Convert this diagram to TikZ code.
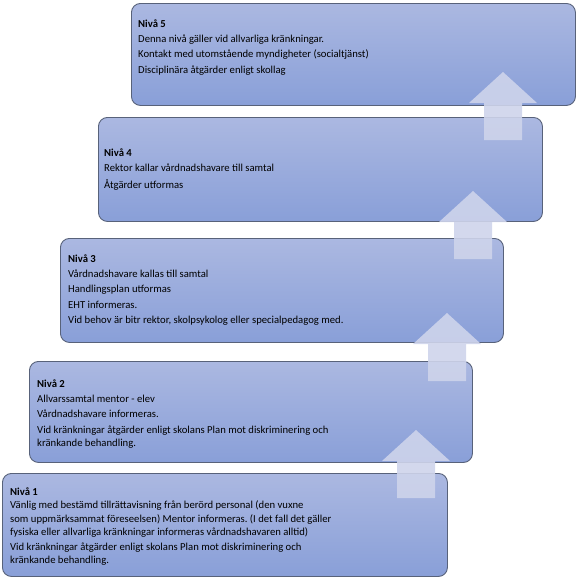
\documentclass[tikz,border=0pt]{standalone}
\usepackage{fontspec}
\setmainfont{Carlito}
\frenchspacing
\definecolor{boxtop}{RGB}{171,184,225}
\definecolor{boxbot}{RGB}{137,159,216}
\definecolor{boxline}{RGB}{88,98,122}
\definecolor{arrowcol}{RGB}{206,212,235}
\tikzset{
  stepbox/.style={draw=boxline, line width=0.9pt, rounded corners=9pt, top color=boxtop, bottom color=boxbot, anchor=north west, inner sep=0pt},
  txt/.style={anchor=base west, inner sep=0pt, font=\fontsize{10.67}{13}\selectfont, text=black},
  arrowfill/.style={fill=arrowcol, fill opacity=0.9}
}
\newcommand{\blockarrow}[2]{\fill[arrowfill] (#1,#2) -- ++(34,31) -- ++(-15,0) -- ++(0,37) -- ++(-38,0) -- ++(0,-37) -- ++(-15,0) -- cycle;}
\begin{document}
\begin{tikzpicture}[x=1pt,y=-1pt]
\useasboundingbox (0,0) rectangle (578,579);
% boxes
\node[stepbox, minimum width=445pt, minimum height=103pt] (b1) at (2,473) {};
\node[stepbox, minimum width=443pt, minimum height=101pt] (b2) at (29,361) {};
\node[stepbox, minimum width=443pt, minimum height=104pt] (b3) at (60,238) {};
\node[stepbox, minimum width=444pt, minimum height=104pt] (b4) at (98,117) {};
\node[stepbox, minimum width=444pt, minimum height=102pt] (b5) at (131,3) {};
% texts box 1
\node[txt] (t1a) at (10,495) {\textbf{Nivå 1}};
\node[txt] (t1b) at (10,508.5) {Vänlig med bestämd tillrättavisning från berörd personal (den vuxne};
\node[txt] (t1c) at (10,522) {som uppmärksammat föreseelsen) Mentor informeras. (I det fall det gäller};
\node[txt] (t1d) at (10,535) {fysiska eller allvarliga kränkningar informeras vårdnadshavaren alltid)};
\node[txt] (t1e) at (10,550) {Vid kränkningar åtgärder enligt skolans Plan mot diskriminering och};
\node[txt] (t1f) at (10,563) {kränkande behandling.};
% texts box 2
\node[txt] (t2a) at (37,387) {\textbf{Nivå 2}};
\node[txt] (t2b) at (37,402) {Allvarssamtal mentor - elev};
\node[txt] (t2c) at (37,417) {Vårdnadshavare informeras.};
\node[txt] (t2d) at (37,433) {Vid kränkningar åtgärder enligt skolans Plan mot diskriminering och};
\node[txt] (t2e) at (37,446) {kränkande behandling.};
% texts box 3
\node[txt] (t3a) at (68,262) {\textbf{Nivå 3}};
\node[txt] (t3b) at (68,277) {Vårdnadshavare kallas till samtal};
\node[txt] (t3c) at (68,292) {Handlingsplan utformas};
\node[txt] (t3d) at (68,308) {EHT informeras.};
\node[txt] (t3e) at (68,323) {Vid behov är bitr rektor, skolpsykolog eller specialpedagog med.};
% texts box 4
\node[txt] (t4a) at (104,156) {\textbf{Nivå 4}};
\node[txt] (t4b) at (104,171) {Rektor kallar vårdnadshavare till samtal};
\node[txt] (t4c) at (104,188) {Åtgärder utformas};
% texts box 5
\node[txt] (t5a) at (138,27) {\textbf{Nivå 5}};
\node[txt] (t5b) at (138,42) {Denna nivå gäller vid allvarliga kränkningar.};
\node[txt] (t5c) at (138,57) {Kontakt med utomstående myndigheter (socialtjänst)};
\node[txt] (t5d) at (138,73) {Disciplinära åtgärder enligt skollag};
% arrows
\blockarrow{503}{72}
\blockarrow{473}{191}
\blockarrow{447}{313}
\blockarrow{416}{430}
\end{tikzpicture}
\end{document}
